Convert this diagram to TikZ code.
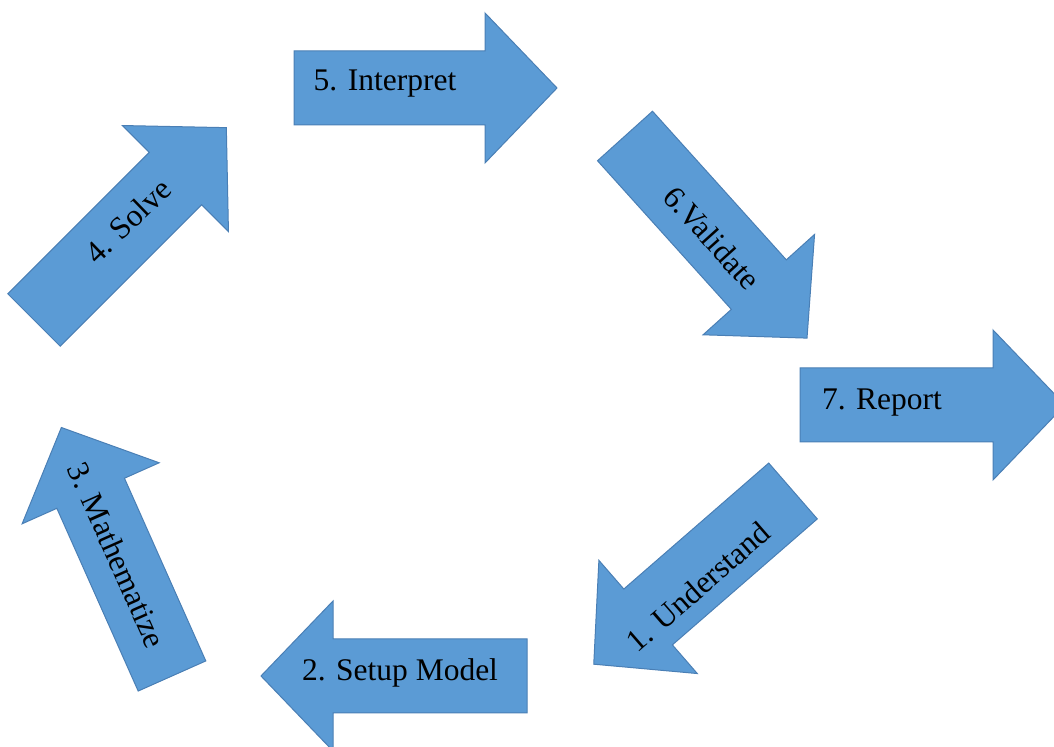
\documentclass[tikz,border=0pt]{standalone}
\usepackage{fontspec}
\setmainfont{Liberation Serif}
\usetikzlibrary{positioning}
\definecolor{arrowblue}{HTML}{5B9BD5}
\definecolor{arrowedge}{HTML}{4A7FB5}
\newcommand{\blockarrow}[1]{\draw[fill=arrowblue, draw=arrowedge, line width=0.5pt]
        (0,-37) -- (#1,-37) -- (#1,-75) -- (#1+72,0) -- (#1,75) -- (#1,37) -- (0,37) -- cycle;}

\begin{document}
\begin{tikzpicture}[x=0.5pt, y=0.5pt,
        steplabel/.style={font=\fontsize{15.75}{18}\selectfont, inner sep=0pt}]

					\useasboundingbox (0,0) rectangle (1054,747);

					\begin{scope}[shift = {(793,256)}, rotate = 221]
						\blockarrow{192}
					\end{scope}

					\begin{scope}[shift = {(527,71)}, rotate = 180]
						\blockarrow{194}
					\end{scope}

					\begin{scope}[shift = {(172,71)}, rotate = 114]
						\blockarrow{200}
					\end{scope}

					\begin{scope}[shift = {(34,427)}, rotate = 45]
						\blockarrow{200}
					\end{scope}

					\begin{scope}[shift = {(294,659)}, rotate = 0]
						\blockarrow{191}
					\end{scope}

					\begin{scope}[shift = {(625,611)}, rotate = -48]
						\blockarrow{200}
					\end{scope}

					\begin{scope}[shift = {(800,342)}, rotate = 0]
						\blockarrow{193}
					\end{scope}

					\node[steplabel, rotate = 41] (understand) at (698,160) {1. Understand};
					\node[steplabel] (setup) at (400,74) {2. Setup Model};
					\node[steplabel, rotate = -66] (mathematize) at (117,192) {3. Mathematize};
					\node[steplabel, rotate = 44] (solve) at (128,526) {4. Solve};
					\node[steplabel] (interpret) at (385,663) {5. Interpret};
					\node[steplabel, rotate = -48] (validate) at (712,509) {6.Validate};
					\node[steplabel] (report) at (882,344) {7. Report};

				\end{tikzpicture}
\end{document}
